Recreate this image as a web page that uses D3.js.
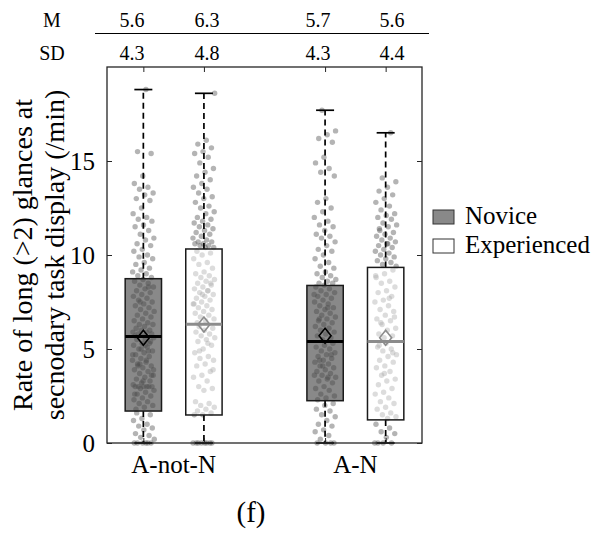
<!DOCTYPE html>
<html>
<head>
<meta charset="utf-8">
<script src="https://cdn.jsdelivr.net/npm/d3@7"></script>
<style>
  html, body { margin: 0; padding: 0; background: #fff; }
  svg { display: block; }
</style>
</head>
<body>
<svg id="chart" width="600" height="534"></svg>
<script>
// Conditions on the x axis and the two driver groups
const conditions = ["A-not-N", "A-N"];
const groups = ["Novice", "Experienced"];

// Box statistics per condition, [Novice, Experienced]
const q1Values      = [[1.70, 1.49], [2.25, 1.23]];
const medianValues  = [[5.66, 6.32], [5.40, 5.40]];
const q3Values      = [[8.74, 10.32], [8.38, 9.34]];
const whiskerLow    = [[0, 0], [0, 0]];
const whiskerHigh   = [[18.8, 18.6], [17.7, 16.5]];
const meanValues    = [[5.6, 6.3], [5.7, 5.6]];
const sdValues      = [[4.3, 4.8], [4.3, 4.4]];

// Per-participant rates (/min)
const noviceAnotN = [
  18.8, 15.5, 15.4, 14.2, 13.8, 13.6, 13.5, 13.3, 13.2, 13.0, 12.9, 12.5, 12.2, 12.0, 11.9, 11.8,
  11.6, 11.5, 11.3, 11.1, 10.9, 10.8, 10.6, 10.5, 10.3, 10.2, 10.0, 9.9, 9.8, 9.6, 9.5, 9.3,
  9.2, 9.1, 9.0, 8.9, 8.8,
  8.7, 8.6, 8.5, 8.4, 8.3, 8.2, 8.1, 8.0, 7.9, 7.8, 7.7, 7.6, 7.5, 7.4, 7.3, 7.2, 7.1, 7.0,
  6.9, 6.8, 6.7, 6.6, 6.5, 6.4, 6.3, 6.3, 6.2, 6.1, 6.0, 6.0, 5.9, 5.9, 5.8, 5.8, 5.7, 5.7, 8.3, 7.5,
  5.6, 5.5, 5.5, 5.4, 5.3, 5.2, 5.1, 5.0, 4.9, 4.8, 4.7, 4.6, 4.5, 4.4, 4.3, 4.2, 4.1, 4.0,
  3.9, 3.8, 3.7, 3.6, 3.5, 3.4, 3.3, 3.2, 3.1, 3.0, 3.0, 3.0, 3.0, 3.0, 3.0, 2.9, 2.8, 2.7,
  2.6, 2.5, 2.4, 2.3, 2.2, 2.1, 2.0, 1.9, 1.8, 5.3, 5.0, 4.7, 4.4, 4.1, 3.6, 3.3, 2.6, 4.9,
  4.2, 3.9, 5.2,
  1.6, 1.5, 1.3, 1.2, 1.0, 0.9, 0.8, 0.7, 0.5, 0.4, 0.3, 0.2, 0, 0, 0, 0, 0, 0
];
const experiencedAnotN = [
  18.6, 16.1, 15.9, 15.7, 15.5, 15.4, 15.2, 14.9, 14.6, 14.4, 14.2, 14.0, 13.8, 13.6, 13.5, 13.3,
  13.1, 13.0, 12.8, 12.6, 12.5, 12.3, 12.2, 12.0, 11.9, 11.8, 11.7, 11.6, 11.5, 11.4, 11.3, 11.2,
  11.1, 11.0, 10.9, 10.8, 10.7, 10.7, 10.6, 10.6, 10.5, 10.5, 10.4, 10.4,
  10.2, 10.1, 10.0, 9.8, 9.6, 9.5, 9.3, 9.1, 9.0, 8.9, 8.8, 8.7, 8.6, 8.5, 8.4, 8.3, 8.2, 8.1,
  8.0, 7.9, 7.8, 7.7, 7.6, 7.5, 7.4, 7.3, 7.2, 7.1, 7.0, 6.9, 6.8, 6.7, 6.6, 6.5, 6.4, 8.5,
  7.9, 7.4, 8.1,
  6.2, 6.1, 6.0, 5.9, 5.8, 5.7, 5.6, 5.5, 5.4, 5.2, 5.0, 4.8, 4.6, 4.5, 4.4, 4.2, 4.1, 3.8,
  3.6, 3.5, 3.3, 3.0, 2.9, 2.8, 2.2, 2.1, 2.0, 1.9, 1.8, 1.7, 1.6, 1.5, 1.5, 5.3, 4.9, 3.9,
  0, 0, 0, 0, 0, 0, 0, 0
];
const noviceAN = [
  17.7, 16.6, 16.4, 16.2, 16.0, 15.2, 14.9, 14.6, 14.4, 14.2, 13.0, 12.8, 12.5, 12.3, 12.0, 11.8,
  11.6, 11.5, 11.3, 11.1, 11.0, 10.9, 10.7, 10.5, 10.3, 10.2, 10.0, 9.8, 9.6, 9.4, 9.3, 9.1,
  9.0, 8.9, 8.8, 8.7, 8.6, 8.5, 8.5,
  8.4, 8.3, 8.2, 8.1, 8.0, 7.9, 7.8, 7.7, 7.6, 7.5, 7.4, 7.3, 7.2, 7.1, 7.0, 6.9, 6.8, 6.7,
  6.6, 6.5, 6.4, 6.3, 6.2, 6.1, 6.0, 5.9, 5.8, 5.7, 5.6, 5.5, 7.9, 7.2, 6.6,
  5.3, 5.2, 5.1, 5.0, 4.9, 4.8, 4.7, 4.6, 4.5, 4.4, 4.3, 4.2, 4.1, 4.0, 3.9, 3.8, 3.7, 3.6,
  3.5, 3.4, 3.3, 3.2, 3.0, 2.9, 2.8, 2.6, 2.5, 2.4, 2.3, 4.7, 4.1, 3.6, 3.5, 4.4,
  2.1, 2.0, 1.8, 1.7, 1.5, 1.4, 1.2, 1.0, 0.9, 0.7, 0.6, 0.4, 0.2, 0, 0, 0, 0
];
const experiencedAN = [
  16.5, 14.1, 13.9, 13.6, 13.4, 13.2, 13.0, 12.8, 12.6, 12.4, 12.2, 12.1, 12.0, 11.9, 11.7, 11.6,
  11.5, 11.3, 11.2, 11.1, 11.0, 10.9, 10.8, 10.7, 10.6, 10.5, 10.4, 10.3, 10.2, 10.1, 10.0, 9.9,
  9.8, 9.7, 9.6, 9.5, 9.4, 10.6, 11.4,
  9.2, 9.0, 8.8, 8.6, 8.5, 8.3, 8.1, 8.0, 7.8, 7.6, 7.5, 7.3, 7.1, 7.0, 6.8, 6.6, 6.5, 6.3,
  6.1, 6.0, 5.8, 5.7, 5.6, 8.9, 7.7, 6.4, 6.7,
  5.3, 5.1, 5.0, 4.9, 4.7, 4.6, 4.4, 4.3, 4.1, 4.0, 3.8, 3.6, 3.4, 3.3, 3.1, 2.9, 2.7, 2.6,
  2.4, 2.2, 2.1, 1.9, 1.8, 1.6, 1.5, 1.4, 1.3, 5.2, 4.8, 3.7,
  1.0, 0.8, 0.6, 0.5, 0.3, 0, 0, 0, 0
];
const rawValues = [[noviceAnotN, experiencedAnotN], [noviceAN, experiencedAN]];

const yTicks = [0, 5, 10, 15];
const tableRows = ["M", "SD"];

const SERIF = "Liberation Serif";

// ---- layout ----
const svg = d3.select("#chart");
const margin = { left: 107, right: 178, top: 67, bottom: 91 };
const W = 600, H = 534;
const plotW = W - margin.left - margin.right;
const plotH = H - margin.top - margin.bottom;

// Box slot positions: two boxes per condition with a gap between conditions
const slotPos = [[1, 2], [4, 5]];
const x = d3.scaleLinear().domain([0.4, 5.6]).range([margin.left, margin.left + plotW]);
const y = d3.scaleLinear().domain([0, 20]).range([margin.top + plotH, margin.top]);

const boxW = x(1.3) - x(0.7);
const capW = 18;
const jitterW = 22;

const boxFill = ["#898989", "#ffffff"];
const medianColor = ["#000000", "#8c8c8c"];
const meanStroke = ["#000000", "#8c8c8c"];

// Flatten into one record per box
const boxes = [];
conditions.forEach((c, ci) => {
  groups.forEach((g, gi) => {
    boxes.push({
      cond: c, group: gi, pos: slotPos[ci][gi],
      q1: q1Values[ci][gi], med: medianValues[ci][gi], q3: q3Values[ci][gi],
      lo: whiskerLow[ci][gi], hi: whiskerHigh[ci][gi],
      mean: meanValues[ci][gi], sd: sdValues[ci][gi],
      values: rawValues[ci][gi]
    });
  });
});

// Novice box fills sit beneath the points
svg.append("g").selectAll("rect")
  .data(boxes.filter(b => b.group === 0))
  .join("rect")
  .attr("x", d => x(d.pos) - boxW / 2)
  .attr("width", boxW)
  .attr("y", d => y(d.q3))
  .attr("height", d => y(d.q1) - y(d.q3))
  .attr("fill", boxFill[0]);

// Jittered participant points (deterministic golden-ratio spread)
const gPts = svg.append("g");
boxes.forEach((b, bi) => {
  gPts.selectAll(null)
    .data(b.values)
    .join("circle")
    .attr("cx", (v, i) => {
      const f = ((i + 1) * 0.6180339887 + bi * 0.37) % 1;
      return x(b.pos) + (f - 0.5) * jitterW;
    })
    .attr("cy", v => y(v))
    .attr("r", 2.7)
    .attr("fill", "#484848")
    .attr("fill-opacity", 0.41);
});

// Experienced boxes: translucent white wash over the points
svg.append("g").selectAll("rect")
  .data(boxes.filter(b => b.group === 1))
  .join("rect")
  .attr("x", d => x(d.pos) - boxW / 2)
  .attr("width", boxW)
  .attr("y", d => y(d.q3))
  .attr("height", d => y(d.q1) - y(d.q3))
  .attr("fill", "#ffffff")
  .attr("fill-opacity", 0.53);

// Whiskers
const gWh = svg.append("g").attr("stroke", "#000").attr("stroke-width", 1.7);
boxes.forEach(b => {
  const cx = x(b.pos);
  gWh.append("line").attr("x1", cx).attr("x2", cx).attr("y1", y(b.q3)).attr("y2", y(b.hi))
    .attr("stroke-dasharray", "6,4");
  gWh.append("line").attr("x1", cx).attr("x2", cx).attr("y1", y(b.q1)).attr("y2", y(b.lo))
    .attr("stroke-dasharray", "6,4");
  gWh.append("line").attr("x1", cx - capW / 2).attr("x2", cx + capW / 2).attr("y1", y(b.hi)).attr("y2", y(b.hi));
  gWh.append("line").attr("x1", cx - capW / 2).attr("x2", cx + capW / 2).attr("y1", y(b.lo)).attr("y2", y(b.lo));
});

// Box outlines
svg.append("g").selectAll("rect")
  .data(boxes)
  .join("rect")
  .attr("x", d => x(d.pos) - boxW / 2)
  .attr("width", boxW)
  .attr("y", d => y(d.q3))
  .attr("height", d => y(d.q1) - y(d.q3))
  .attr("fill", "none")
  .attr("stroke", "#1a1a1a")
  .attr("stroke-width", 1.5);

// Medians
svg.append("g").selectAll("line")
  .data(boxes)
  .join("line")
  .attr("x1", d => x(d.pos) - boxW / 2)
  .attr("x2", d => x(d.pos) + boxW / 2)
  .attr("y1", d => y(d.med))
  .attr("y2", d => y(d.med))
  .attr("stroke", d => medianColor[d.group])
  .attr("stroke-width", 3);

// Mean diamonds
svg.append("g").selectAll("path")
  .data(boxes)
  .join("path")
  .attr("d", d => {
    const cx = x(d.pos), cy = y(d.mean), hw = 6, hh = 7.5;
    return `M${cx},${cy - hh}L${cx + hw},${cy}L${cx},${cy + hh}L${cx - hw},${cy}Z`;
  })
  .attr("fill", "none")
  .attr("stroke", d => meanStroke[d.group])
  .attr("stroke-width", 1.6);

// Axes frame with inward ticks
svg.append("rect")
  .attr("x", margin.left).attr("y", margin.top)
  .attr("width", plotW).attr("height", plotH)
  .attr("fill", "none").attr("stroke", "#262626").attr("stroke-width", 1.3);

const gy = svg.append("g").attr("transform", `translate(${margin.left},0)`)
  .call(d3.axisLeft(y).tickValues(yTicks).tickSize(-5).tickPadding(12));
gy.attr("font-family", null).attr("font-size", null);
gy.select(".domain").remove();
gy.selectAll(".tick line").attr("stroke", "#262626");
gy.selectAll(".tick text")
  .attr("fill", "#000").attr("font-family", SERIF).attr("font-size", 25);

const gyR = svg.append("g").attr("transform", `translate(${margin.left + plotW},0)`)
  .call(d3.axisRight(y).tickValues(yTicks).tickSize(-5).tickFormat(""));
gyR.select(".domain").remove();
gyR.selectAll(".tick line").attr("stroke", "#262626");

const allPos = slotPos.flat();
const gxT = svg.append("g").attr("transform", `translate(0,${margin.top})`)
  .call(d3.axisTop(x).tickValues(allPos).tickSize(-5).tickFormat(""));
gxT.select(".domain").remove();
gxT.selectAll(".tick line").attr("stroke", "#262626");
const gxB = svg.append("g").attr("transform", `translate(0,${margin.top + plotH})`)
  .call(d3.axisBottom(x).tickValues(allPos).tickSize(-5).tickFormat(""));
gxB.select(".domain").remove();
gxB.selectAll(".tick line").attr("stroke", "#262626");

// Condition labels
svg.append("g").selectAll("text")
  .data(conditions)
  .join("text")
  .attr("x", (d, i) => (x(slotPos[i][0]) + x(slotPos[i][1])) / 2)
  .attr("y", 473)
  .attr("text-anchor", "middle")
  .attr("font-family", SERIF)
  .attr("font-size", 25)
  .text(d => d);

// Y axis title (two lines)
const yTitle = svg.append("text")
  .attr("transform", `translate(0,${margin.top + plotH / 2}) rotate(-90)`)
  .attr("text-anchor", "middle")
  .attr("font-family", SERIF)
  .attr("font-size", 28);
yTitle.append("tspan").attr("x", 0).attr("y", 32).text("Rate of long (>2) glances at");
yTitle.append("tspan").attr("x", 0).attr("y", 64).text("secnodary task display (/min)");

// Summary table above the plot
const tableX = [132, 207, 318, 392];
const tableY = [27, 60];
const tableData = [meanValues.flat(), sdValues.flat()];
tableRows.forEach((r, ri) => {
  svg.append("text").attr("x", 52).attr("y", tableY[ri]).attr("text-anchor", "middle")
    .attr("font-family", SERIF).attr("font-size", 20).text(r);
  svg.append("g").selectAll("text")
    .data(tableData[ri])
    .join("text")
    .attr("x", (d, i) => tableX[i])
    .attr("y", tableY[ri])
    .attr("text-anchor", "middle")
    .attr("font-family", SERIF)
    .attr("font-size", 20)
    .text(d => d.toFixed(1));
});
svg.append("line").attr("x1", 95).attr("x2", 429).attr("y1", 33.5).attr("y2", 33.5)
  .attr("stroke", "#000").attr("stroke-width", 1);

// Legend
const legend = svg.append("g");
groups.forEach((g, gi) => {
  const ly = 210 + gi * 29;
  legend.append("rect").attr("x", 433).attr("y", ly).attr("width", 21).attr("height", 14)
    .attr("fill", boxFill[gi]).attr("stroke", "#333").attr("stroke-width", 1);
  legend.append("text").attr("x", 465).attr("y", ly + 14)
    .attr("font-family", SERIF).attr("font-size", 25).text(g);
});

// Panel label
svg.append("text").attr("x", 251).attr("y", 522).attr("text-anchor", "middle")
  .attr("font-family", SERIF).attr("font-size", 29).text("(f)");
</script>
</body>
</html>
